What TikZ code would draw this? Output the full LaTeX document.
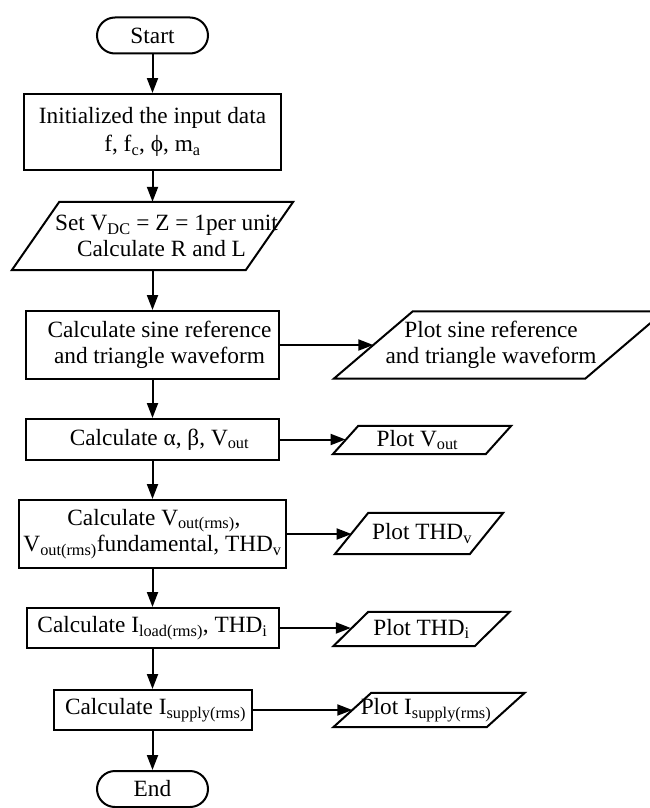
\documentclass[tikz,border=0pt]{standalone}
\usepackage{fontspec}
\setmainfont{Liberation Serif}
\usetikzlibrary{arrows.meta}
\newcommand\parabox[2]{%
  \draw[shp] ([xshift=#2/2]#1.north west) -- ([xshift=#2/2]#1.north east)
    -- ([xshift=-#2/2]#1.south east) -- ([xshift=-#2/2]#1.south west) -- cycle;}
\newcommand\txshift[2]{\hspace*{#1}#2\hspace*{-#1}}
\begin{document}
\begin{tikzpicture}[x=1pt,y=-1pt,
  every node/.style={font=\fontsize{23.3}{26.5}\selectfont, align=center, inner sep=0pt},
  shp/.style={line width=2pt, line join=miter},
  proc/.style={draw, line width=2pt},
  termsty/.style={draw, line width=2pt, rounded corners=18pt, minimum width=111pt, minimum height=36pt},
  arr/.style={line width=2pt, -{Triangle[length=15pt,width=11pt]}}
]
\useasboundingbox (0,0) rectangle (650,808);

\node[termsty] (start) at (152.5,35.5) {Start};
\node[proc, minimum width=257pt, minimum height=76pt] (init) at (152.5,132)
  {Initialized the input data\\[1.5pt]f, f\textsubscript{c}, ϕ, m\textsubscript{a}};
\node[minimum width=233.5pt, minimum height=68pt] (setv) at (152.5,236)
  {\txshift{14pt}{Set V\textsubscript{DC} = Z = 1per unit}\\\txshift{9pt}{Calculate R and L}};
\parabox{setv}{47.5}
\node[proc, minimum width=253pt, minimum height=68pt] (sine) at (152.5,345)
  {\txshift{7pt}{Calculate sine reference}\\\txshift{7pt}{and triangle waveform}};
\node[minimum width=251pt, minimum height=67pt] (psine) at (499,345)
  {\txshift{-8pt}{Plot sine reference}\\\txshift{-8pt}{and triangle waveform}};
\parabox{psine}{79}
\node[proc, minimum width=253pt, minimum height=41pt] (alpha) at (152.5,439.5)
  {\txshift{7pt}{Calculate α, β, V\textsubscript{out}}};
\node[minimum width=152.5pt, minimum height=28pt] (pvout) at (422,440)
  {\txshift{-4.5pt}{Plot V\textsubscript{out}}};
\parabox{pvout}{25.5}
\node[proc, minimum width=267pt, minimum height=68pt] (vrms) at (152.5,534)
  {\txshift{1.5pt}{Calculate V\textsubscript{out(rms)},}\\V\textsubscript{out(rms)}fundamental, THD\textsubscript{v}};
\node[minimum width=134.5pt, minimum height=41pt] (pthdv) at (419,533.5)
  {\txshift{3pt}{Plot THD\textsubscript{v}}};
\parabox{pthdv}{33.5}
\node[proc, minimum width=252pt, minimum height=40pt] (iload) at (152.5,628)
  {Calculate I\textsubscript{load(rms)}, THD\textsubscript{i}};
\node[minimum width=141pt, minimum height=34pt] (pthdi) at (421.5,629)
  {Plot THD\textsubscript{i}};
\parabox{pthdi}{35}
\node[proc, minimum width=198pt, minimum height=40pt] (isup) at (152.5,710)
  {\txshift{3pt}{Calculate I\textsubscript{supply(rms)}}};
\node[minimum width=153pt, minimum height=34pt] (pisup) at (429,710)
  {\txshift{-3pt}{Plot I\textsubscript{supply(rms)}}};
\parabox{pisup}{38}
\node[termsty] (stop) at (152.5,789) {End};

\draw[arr] (start) -- (init);
\draw[arr] (init) -- (setv);
\draw[arr] (setv) -- (sine);
\draw[arr] (sine) -- (alpha);
\draw[arr] (alpha) -- (vrms);
\draw[arr] (vrms) -- (iload);
\draw[arr] (iload) -- (isup);
\draw[arr] (isup) -- (stop);
\draw[arr] (sine.east) -- (sine.east -| psine.west);
\draw[arr] (alpha.east) -- (alpha.east -| pvout.west);
\draw[arr] (vrms.east) -- (vrms.east -| pthdv.west);
\draw[arr] (iload.east) -- (iload.east -| pthdi.west);
\draw[arr] (isup.east) -- (isup.east -| pisup.west);
\end{tikzpicture}
\end{document}
